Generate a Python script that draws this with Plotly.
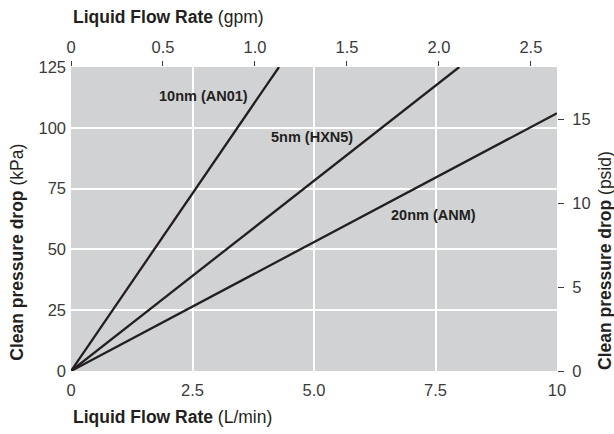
import plotly.graph_objects as go

# ---- data ----
lpm_ticks = [0, 2.5, 5, 7.5, 10]
lpm_labels = ["0", "2.5", "5.0", "7.5", "10"]
gpm_ticks = [0, 0.5, 1.0, 1.5, 2.0, 2.5]
gpm_labels = ["0", "0.5", "1.0", "1.5", "2.0", "2.5"]
kpa_ticks = [0, 25, 50, 75, 100, 125]
psid_ticks = [0, 5, 10, 15]

series_names = ["10nm (AN01)", "5nm (HXN5)", "20nm (ANM)"]
series_flow = [[0, 4.28], [0, 7.99], [0, 10]]
series_dp = [[0, 125], [0, 125], [0, 106]]
label_flow = [2.73, 4.95, 7.46]
label_dp = [113.2, 96.1, 64.1]

LPM_PER_GPM = 3.785
KPA_PER_PSI = 6.895
X_MAX = 10
Y_MAX = 125

# ---- styles ----
INK = "#231f20"
TICK_COLOR = "#3a3a3a"
FONT = "Liberation Sans, Arial, Helvetica, sans-serif"

fig = go.Figure()
for name, xs, ys in zip(series_names, series_flow, series_dp):
    fig.add_trace(go.Scatter(x=xs, y=ys, mode="lines", name=name,
                             line=dict(color=INK, width=2.3),
                             showlegend=False, hoverinfo="skip"))
# invisible trace to anchor secondary axes
fig.add_trace(go.Scatter(x=[0, X_MAX / LPM_PER_GPM], y=[0, Y_MAX / KPA_PER_PSI],
                         xaxis="x2", yaxis="y2", mode="markers",
                         marker=dict(opacity=0), showlegend=False, hoverinfo="skip"))

for name, lx, ly in zip(series_names, label_flow, label_dp):
    fig.add_annotation(x=lx, y=ly, xref="x", yref="y", text=f"<b>{name}</b>",
                       showarrow=False, font=dict(family=FONT, size=14.5, color=INK))

tickfont = dict(family=FONT, size=16.5, color=TICK_COLOR)

fig.update_layout(
    width=614, height=434,
    margin=dict(l=71, r=57, t=67, b=63),
    paper_bgcolor="white",
    plot_bgcolor="#d1d2d4",
    xaxis=dict(range=[0, X_MAX], tickvals=lpm_ticks, ticktext=lpm_labels,
               showgrid=True, gridcolor="white", gridwidth=1.5, zeroline=False,
               ticks="", showline=False, tickfont=tickfont, ticklabelstandoff=7),
    yaxis=dict(range=[0, Y_MAX], tickvals=kpa_ticks,
               showgrid=True, gridcolor="white", gridwidth=1.5, zeroline=False,
               ticks="", showline=False, tickfont=tickfont, ticklabelstandoff=4),
    xaxis2=dict(range=[0, X_MAX / LPM_PER_GPM], tickvals=gpm_ticks, ticktext=gpm_labels,
                overlaying="x", side="top", showgrid=False, zeroline=False,
                ticks="outside", ticklen=5, tickwidth=1, tickcolor=TICK_COLOR,
                tickfont=tickfont, anchor="y", ticklabelstandoff=1),
    yaxis2=dict(range=[0, Y_MAX / KPA_PER_PSI], tickvals=psid_ticks,
                overlaying="y", side="right", showgrid=False, zeroline=False,
                ticks="outside", ticklen=6, tickwidth=1, tickcolor=TICK_COLOR,
                tickfont=tickfont, anchor="x", ticklabelstandoff=5),
)

title_font = dict(family=FONT, size=17.5, color=INK)
fig.add_annotation(xref="paper", yref="paper", x=0, y=1.164, xanchor="left", yanchor="middle",
                   text="<b>Liquid Flow Rate</b> (gpm)", showarrow=False, font=title_font)
fig.add_annotation(xref="paper", yref="paper", x=0, y=-0.151, xanchor="left", yanchor="middle",
                   text="<b>Liquid Flow Rate</b> (L/min)", showarrow=False, font=title_font)
fig.add_annotation(xref="paper", yref="paper", x=-0.111, y=0.026, xanchor="center", yanchor="bottom",
                   textangle=-90, text="<b>Clean pressure drop</b> (kPa)", showarrow=False, font=title_font)
fig.add_annotation(xref="paper", yref="paper", x=1.1, y=-0.003, xanchor="center", yanchor="bottom",
                   textangle=-90, text="<b>Clean pressure drop</b> (psid)", showarrow=False, font=title_font)

fig.write_html("out.html")
